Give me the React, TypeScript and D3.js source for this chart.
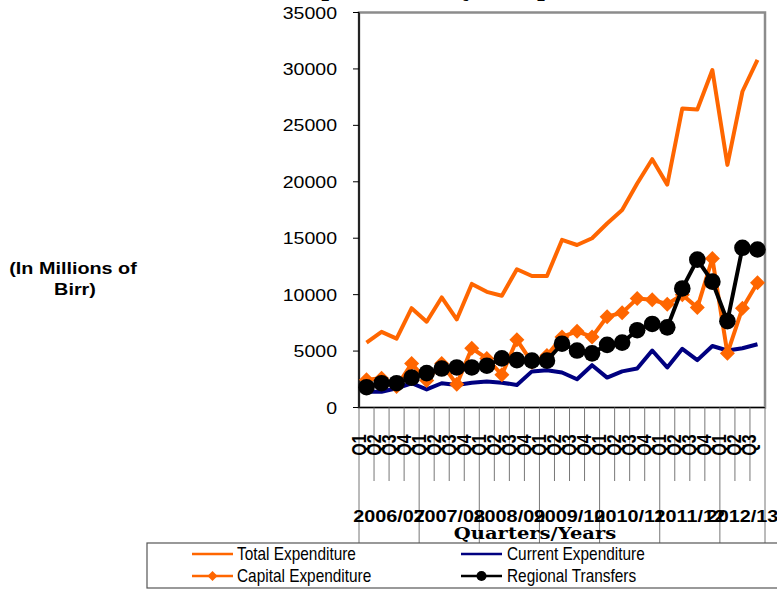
import React from "react";
import * as d3 from "d3";

const years = ["2006/07", "2007/08", "2008/09", "2009/10", "2010/11", "2011/12", "2012/13"];
const quarters = ["Q1", "Q2", "Q3", "Q4"];
const yTicks = [0, 5000, 10000, 15000, 20000, 25000, 30000, 35000];

const totalExpenditure = [5750, 6700, 6100, 8800, 7600, 9750, 7800, 10950, 10250, 9900, 12250, 11650, 11650, 14850, 14400, 15000, 16300, 17500, 19850, 22000, 19750, 26500, 26400, 29900, 21500, 28000, 30800];
const currentExpenditure = [1400, 1400, 1700, 2150, 1600, 2150, 2000, 2200, 2300, 2200, 2000, 3200, 3300, 3100, 2500, 3750, 2650, 3200, 3450, 5050, 3550, 5200, 4200, 5450, 5050, 5250, 5600];
const capitalExpenditure = [2450, 2600, 1850, 3900, 2400, 3900, 2050, 5250, 4350, 2900, 6000, 4000, 4600, 6250, 6750, 6250, 8050, 8400, 9650, 9550, 9150, 10000, 8850, 13200, 4800, 8800, 11050];
const regionalTransfers = [1800, 2150, 2150, 2650, 3050, 3450, 3550, 3550, 3700, 4350, 4200, 4150, 4150, 5650, 5050, 4800, 5550, 5750, 6850, 7400, 7100, 10550, 13100, 11150, 7650, 14150, 14000];

const categories = years.flatMap((y) => quarters.map((q) => ({ year: y, q }))).slice(0, totalExpenditure.length);

const ORANGE = "#FF6600";
const NAVY = "#000080";

const L = 359, R = 765, T = 12.5, B = 407.5;

function ST({ x, y, sx = 1, sy = 1, anchor = "start", size, family = "Liberation Sans, Arial, sans-serif", weight = "normal", children, rotate = 0 }: any) {
  return (
    <text
      transform={`translate(${x},${y}) rotate(${rotate}) scale(${sx},${sy})`}
      textAnchor={anchor}
      fontSize={size}
      fontFamily={family}
      fontWeight={weight}
      fill="#000"
    >
      {children}
    </text>
  );
}

export default function App() {
  const x = d3.scaleBand<number>().domain(categories.map((_, i) => i)).range([L, R]).padding(0);
  const bw = x.bandwidth();
  const cx = (i: number) => (x(i) as number) + bw / 2;
  const y = d3.scaleLinear().domain([0, 35000]).range([B, T]);
  const line = d3.line<number>().x((_, i) => cx(i)).y((d) => y(d));

  const yearStarts = years.map((yr) => categories.findIndex((c) => c.year === yr));
  const diamond = (s: number) => `M0,${-s}L${s},0L0,${s}L${-s},0Z`;

  return (
    <svg width={777} height={592} style={{ position: "absolute", left: 0, top: 0, background: "#fff" }}>
      {/* title (mostly cut off) */}
      <ST x={292} y={-4} size={24} family="DejaVu Serif, serif" weight="bold" sx={0.9}>
        Expenditure by Component
      </ST>

      {/* plot border */}
      <rect x={L} y={T} width={R - L} height={B - T} fill="none" stroke="#8c8c8c" strokeWidth={2.5} />
      <line x1={L} x2={L} y1={T} y2={B} stroke="#000" strokeWidth={1.5} />
      <line x1={L} x2={R} y1={B} y2={B} stroke="#000" strokeWidth={1} />

      {/* y ticks */}
      {yTicks.map((t) => (
        <g key={t}>
          <line x1={L - 6} x2={L} y1={y(t)} y2={y(t)} stroke="#000" strokeWidth={1} />
          <ST x={337} y={y(t) + 6} anchor="end" size={16} sx={1.22}>
            {t}
          </ST>
        </g>
      ))}

      {/* y label */}
      <ST x={73} y={274} anchor="middle" size={16.5} weight="bold" sx={1.2}>
        (In Millions of
      </ST>
      <ST x={75} y={295} anchor="middle" size={16.5} weight="bold" sx={1.2}>
        Birr)
      </ST>

      {/* x quarter ticks */}
      {categories.map((c, i) =>
        i === 0 || c.q === "Q1" ? null : (
          <line key={"t" + i} x1={x(i)} x2={x(i)} y1={B} y2={481} stroke="#777" strokeWidth={1} />
        )
      )}
      {/* year boundary lines */}
      {[...yearStarts, categories.length].map((s, k) => {
        const xx = s === categories.length ? R : (x(s) as number);
        return <line key={"y" + k} x1={xx} x2={xx} y1={B} y2={543} stroke="#777" strokeWidth={1} />;
      })}

      {/* quarter labels */}
      {categories.map((c, i) => (
        <ST key={"q" + i} x={cx(i) - 1} y={445} anchor="middle" size={16} weight="bold" rotate={-90} sx={1} sy={1.3}>
          {c.q}
        </ST>
      ))}

      {/* year labels */}
      {years.map((yr, k) => {
        const s = yearStarts[k];
        const e = k + 1 < years.length ? yearStarts[k + 1] : categories.length;
        const mid = ((x(s) as number) + (e === categories.length ? R : (x(e) as number))) / 2;
        return (
          <ST key={yr} x={mid} y={522} anchor="middle" size={16} weight="bold" sx={1.24}>
            {yr}
          </ST>
        );
      })}

      <ST x={535} y={539} anchor="middle" size={16} family="DejaVu Serif, serif" weight="bold" sx={1.22}>
        Quarters/Years
      </ST>

      {/* series */}
      <path d={line(totalExpenditure) || ""} fill="none" stroke={ORANGE} strokeWidth={4} strokeLinejoin="round" />
      <path d={line(currentExpenditure) || ""} fill="none" stroke={NAVY} strokeWidth={4} strokeLinejoin="round" />
      <path d={line(capitalExpenditure) || ""} fill="none" stroke={ORANGE} strokeWidth={4} strokeLinejoin="round" />
      {capitalExpenditure.map((v, i) => (
        <path key={"d" + i} d={diamond(7.5)} transform={`translate(${cx(i)},${y(v)})`} fill={ORANGE} />
      ))}
      <path d={line(regionalTransfers) || ""} fill="none" stroke="#000" strokeWidth={4} strokeLinejoin="round" />
      {regionalTransfers.map((v, i) => (
        <circle key={"c" + i} cx={cx(i)} cy={y(v)} r={8.3} fill="#000" />
      ))}

      {/* legend */}
      <rect x={147} y={543} width={640} height={45} fill="#fff" stroke="#555" strokeWidth={1.2} />
      <line x1={192} x2={233} y1={554} y2={554} stroke={ORANGE} strokeWidth={2.5} />
      <ST x={237} y={560} size={17.5} sx={0.88}>Total Expenditure</ST>
      <line x1={461} x2={502} y1={554} y2={554} stroke={NAVY} strokeWidth={2.5} />
      <ST x={507} y={560} size={17.5} sx={0.88}>Current Expenditure</ST>
      <line x1={192} x2={233} y1={576} y2={576} stroke={ORANGE} strokeWidth={2.5} />
      <path d={diamond(5)} transform="translate(212.5,576)" fill={ORANGE} />
      <ST x={237} y={582} size={17.5} sx={0.88}>Capital Expenditure</ST>
      <line x1={461} x2={502} y1={576} y2={576} stroke="#000" strokeWidth={2.5} />
      <circle cx={481.5} cy={576} r={5} fill="#000" />
      <ST x={507} y={582} size={17.5} sx={0.88}>Regional Transfers</ST>
    </svg>
  );
}
